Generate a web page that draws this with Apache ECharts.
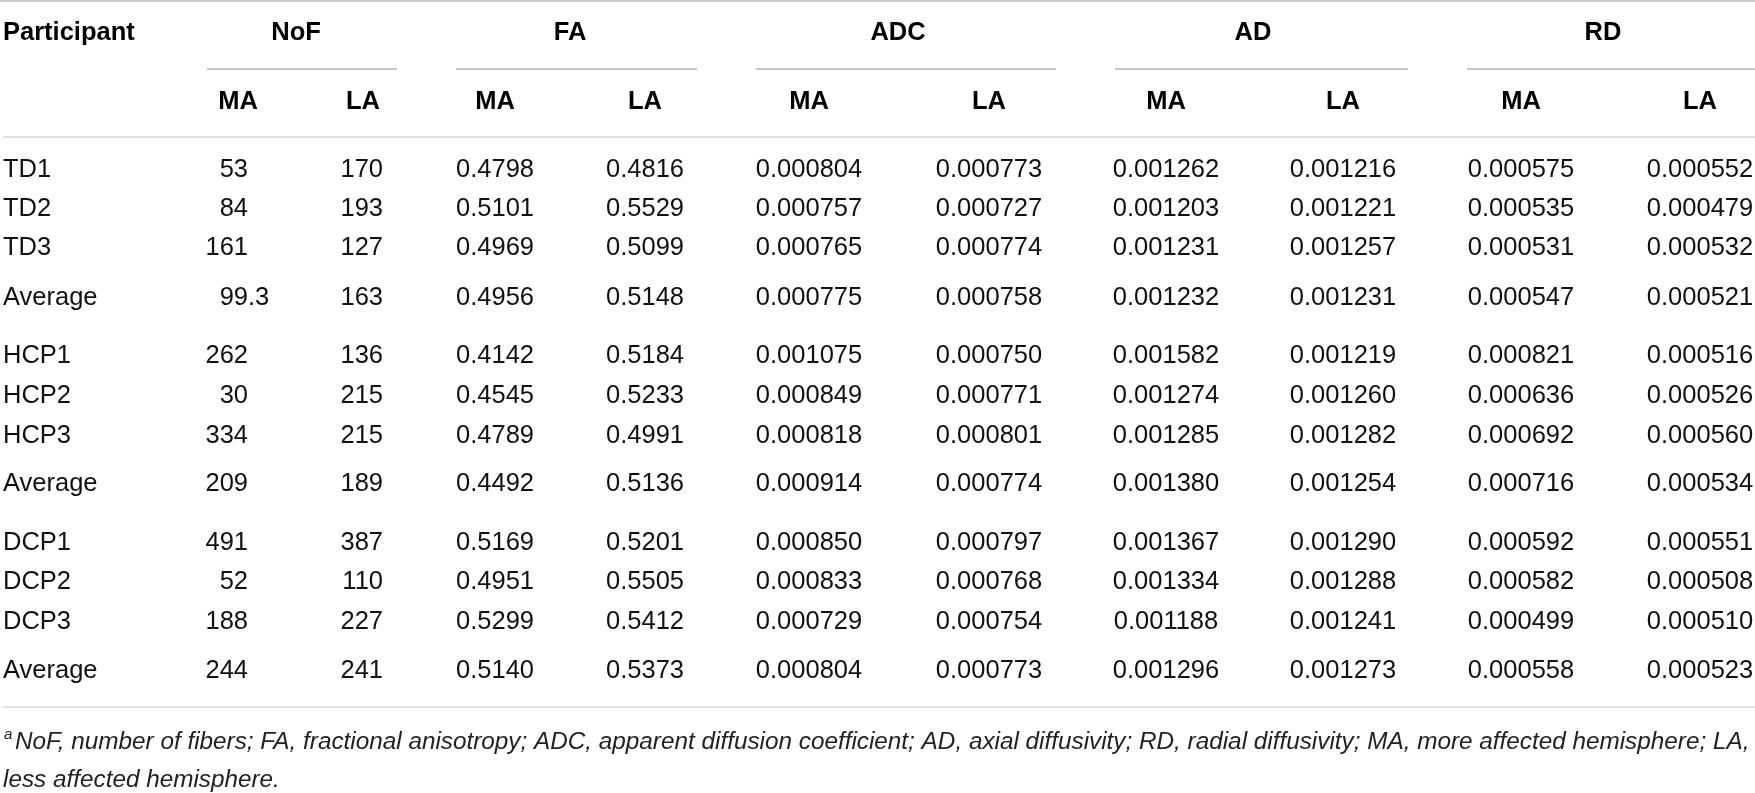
<!doctype html>
<html lang="en">
<head>
    <meta charset="UTF-8">
    <title>NoF / FA / ADC / AD / RD</title>
    <style>
        html, body { margin: 0; padding: 0; background: #fff; }
        #main { width: 1755px; height: 793px; }
    </style>
    <script src="https://cdn.jsdelivr.net/npm/echarts@6/dist/echarts.min.js"></script>
</head>
<body>
<div id="main"></div>
<script type="text/javascript">
    // table content
    var participants = ['TD1', 'TD2', 'TD3', 'Average', 'HCP1', 'HCP2', 'HCP3', 'Average', 'DCP1', 'DCP2', 'DCP3', 'Average'];
    var measures = ['NoF', 'FA', 'ADC', 'AD', 'RD'];
    var hemispheres = ['MA', 'LA'];

    var nofMA = [53, 84, 161, 99.3, 262, 30, 334, 209, 491, 52, 188, 244];
    var nofLA = [170, 193, 127, 163, 136, 215, 215, 189, 387, 110, 227, 241];
    var faMA = [0.4798, 0.5101, 0.4969, 0.4956, 0.4142, 0.4545, 0.4789, 0.4492, 0.5169, 0.4951, 0.5299, 0.5140];
    var faLA = [0.4816, 0.5529, 0.5099, 0.5148, 0.5184, 0.5233, 0.4991, 0.5136, 0.5201, 0.5505, 0.5412, 0.5373];
    var adcMA = [0.000804, 0.000757, 0.000765, 0.000775, 0.001075, 0.000849, 0.000818, 0.000914, 0.000850, 0.000833, 0.000729, 0.000804];
    var adcLA = [0.000773, 0.000727, 0.000774, 0.000758, 0.000750, 0.000771, 0.000801, 0.000774, 0.000797, 0.000768, 0.000754, 0.000773];
    var adMA = [0.001262, 0.001203, 0.001231, 0.001232, 0.001582, 0.001274, 0.001285, 0.001380, 0.001367, 0.001334, 0.001188, 0.001296];
    var adLA = [0.001216, 0.001221, 0.001257, 0.001231, 0.001219, 0.001260, 0.001282, 0.001254, 0.001290, 0.001288, 0.001241, 0.001273];
    var rdMA = [0.000575, 0.000535, 0.000531, 0.000547, 0.000821, 0.000636, 0.000692, 0.000716, 0.000592, 0.000582, 0.000499, 0.000558];
    var rdLA = [0.000552, 0.000479, 0.000532, 0.000521, 0.000516, 0.000526, 0.000560, 0.000534, 0.000551, 0.000508, 0.000510, 0.000523];

    var footMark = 'a';
    var footLine1 = 'NoF, number of fibers; FA, fractional anisotropy; ADC, apparent diffusion coefficient; AD, axial diffusivity; RD, radial diffusivity; MA, more affected hemisphere; LA,';
    var footLine2 = 'less affected hemisphere.';

    // layout (axis units = pixels of the page)
    var W = 1755, H = 793;
    var rowY = [170, 209, 248, 298, 356, 396, 436, 484, 543, 582, 622, 671];
    var headY = 33, subY = 102, ruleY = [1, 137, 707], groupRuleY = 69;
    var groupX = [296, 570, 898, 1253, 1603];
    var groupRule = [[207, 397], [456, 697], [756, 1056], [1115, 1408], [1467, 1755]];
    var subX = [238, 363, 495, 645, 809, 989, 1166, 1343, 1521, 1700];
    var nofRight = [248, 383];   // decimal point position for NoF columns
    var footY = [742, 780];

    var valueCols = [faMA, faLA, adcMA, adcLA, adMA, adLA, rdMA, rdLA];
    var decimals = [4, 4, 6, 6, 6, 6, 6, 6];

    var FONT = 'Liberation Sans, Arial, sans-serif';

    function cell(x, y, text, align, bold, extra) {
        var label = {
            show: true,
            position: 'inside',
            align: align,
            verticalAlign: 'middle',
            formatter: '{b}',
            fontFamily: FONT,
            fontSize: 25.5,
            fontWeight: bold ? 'bold' : 'normal',
            color: bold ? '#000' : '#111',
            opacity: 1
        };
        if (extra) {
            for (var k in extra) label[k] = extra[k];
        }
        return { name: text, value: [x, y], label: label };
    }

    var cells = [];
    cells.push(cell(3, headY, 'Participant', 'left', true));
    measures.forEach(function (m, i) {
        cells.push(cell(groupX[i], headY, m, 'center', true));
        hemispheres.forEach(function (h, j) {
            cells.push(cell(subX[i * 2 + j], subY, h, 'center', true));
        });
    });

    participants.forEach(function (p, r) {
        var y = rowY[r];
        cells.push(cell(3, y, p, 'left', false));
        [nofMA, nofLA].forEach(function (col, c) {
            var parts = String(col[r]).split('.');
            cells.push(cell(nofRight[c], y, parts[0], 'right', false));
            if (parts.length > 1) {
                cells.push(cell(nofRight[c], y, '.' + parts[1], 'left', false));
            }
        });
        valueCols.forEach(function (col, c) {
            cells.push(cell(subX[c + 2], y, col[r].toFixed(decimals[c]), 'center', false));
        });
    });

    var footStyle = { fontStyle: 'italic', fontSize: 24.3, color: '#222' };
    cells.push(cell(4, footY[0] - 7, footMark, 'left', false, { fontStyle: 'italic', fontSize: 15, color: '#222' }));
    cells.push(cell(15, footY[0], footLine1, 'left', false, footStyle));
    cells.push(cell(3, footY[1], footLine2, 'left', false, footStyle));

    var rules = [];
    ruleY.forEach(function (y, i) {
        rules.push({
            coords: [[i === 0 ? 0 : 3, y], [W, y]],
            lineStyle: { color: i === 0 ? '#9a9a9a' : '#c4c4c4', width: 2 }
        });
    });
    groupRule.forEach(function (g) {
        rules.push({
            coords: [[g[0], groupRuleY], [g[1], groupRuleY]],
            lineStyle: { color: '#8c8c8c', width: 2 }
        });
    });

    var myChart = echarts.init(document.getElementById('main'));
    var option = {
        animation: false,
        backgroundColor: '#fff',
        grid: { left: 0, right: 0, top: 0, bottom: 0 },
        xAxis: { type: 'value', min: 0, max: W, show: false },
        yAxis: { type: 'value', min: 0, max: H, inverse: true, show: false },
        series: [
            {
                type: 'lines',
                coordinateSystem: 'cartesian2d',
                polyline: false,
                silent: true,
                data: rules
            },
            {
                type: 'scatter',
                symbolSize: 1,
                itemStyle: { color: 'rgba(0,0,0,0)', opacity: 1 },
                silent: true,
                data: cells
            }
        ]
    };
    myChart.setOption(option);
</script>
</body>
</html>
